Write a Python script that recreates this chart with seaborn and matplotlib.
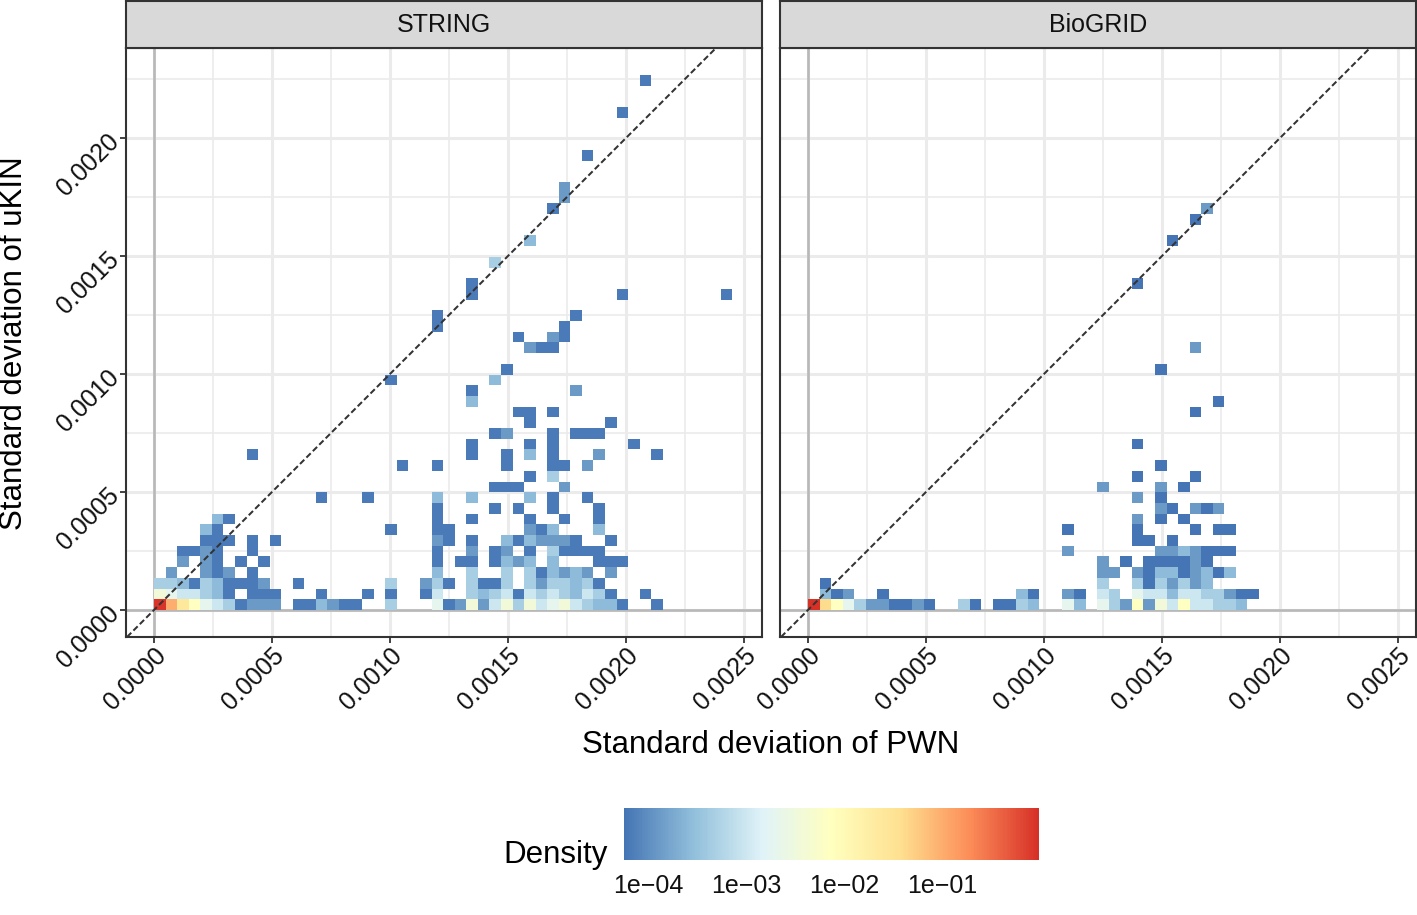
import numpy as np
import pandas as pd
import matplotlib
matplotlib.use("Agg")
import matplotlib.pyplot as plt
from matplotlib.colors import LinearSegmentedColormap, LogNorm
from matplotlib.transforms import ScaledTranslation
import seaborn as sns

# ---------------- data ----------------
panels = ["STRING", "BioGRID"]
bin_width_x = 0.000049
bin_width_y = 0.00004534
n_bins = 50

# density value for each colour level
level_density = [5.7e-5, 6.5e-5, 1.3e-4, 2.7e-4, 4.7e-4, 1.0e-3, 2.0e-3,
                 3.5e-3, 7.0e-3, 2.5e-2, 1.0e-1, 0.88, 0.98, 4.0e-2]

# (x bin, y bin, level)
string_cells = [
    (0, 0, 11), (1, 0, 10), (2, 0, 9), (3, 0, 8), (4, 0, 6), (5, 0, 5), (6, 0, 4), (7, 0, 1),
    (8, 0, 2), (9, 0, 2), (10, 0, 2), (12, 0, 1), (13, 0, 1), (14, 0, 3), (15, 0, 2), (16, 0, 1),
    (17, 0, 1), (20, 0, 4), (24, 0, 6), (25, 0, 1), (26, 0, 2), (27, 0, 7), (28, 0, 2), (29, 0, 5),
    (30, 0, 7), (31, 0, 4), (32, 0, 7), (33, 0, 5), (34, 0, 6), (35, 0, 7), (36, 0, 5), (37, 0, 4),
    (38, 0, 3), (39, 0, 3), (40, 0, 1), (43, 0, 1),
    (0, 1, 7), (1, 1, 6), (2, 1, 5), (3, 1, 5), (4, 1, 4), (5, 1, 3), (6, 1, 1), (8, 1, 1),
    (9, 1, 1), (10, 1, 1), (14, 1, 1), (18, 1, 1), (20, 1, 1), (23, 1, 1), (24, 1, 5), (27, 1, 4),
    (28, 1, 3), (29, 1, 4), (30, 1, 5), (31, 1, 1), (32, 1, 5), (33, 1, 4), (34, 1, 5), (35, 1, 4),
    (36, 1, 3), (37, 1, 5), (38, 1, 4), (39, 1, 1), (42, 1, 1),
    (0, 2, 4), (1, 2, 4), (2, 2, 3), (3, 2, 1), (4, 2, 4), (5, 2, 3), (6, 2, 1), (7, 2, 1),
    (8, 2, 1), (9, 2, 2), (12, 2, 1), (20, 2, 4), (23, 2, 2), (24, 2, 4), (25, 2, 1), (27, 2, 4),
    (28, 2, 1), (29, 2, 1), (30, 2, 4), (32, 2, 4), (33, 2, 2), (34, 2, 4), (35, 2, 4), (36, 2, 3),
    (37, 2, 4), (38, 2, 1),
    (1, 3, 2), (4, 3, 2), (5, 3, 1), (6, 3, 2), (8, 3, 1), (24, 3, 3), (27, 3, 4), (30, 3, 4),
    (32, 3, 4), (33, 3, 1), (34, 3, 3), (35, 3, 2), (36, 3, 3), (37, 3, 2), (39, 3, 2),
    (2, 4, 2), (4, 4, 2), (5, 4, 1), (7, 4, 1), (9, 4, 1), (24, 4, 1), (26, 4, 1), (27, 4, 1),
    (29, 4, 1), (30, 4, 3), (31, 4, 2), (32, 4, 3), (34, 4, 3), (38, 4, 1), (39, 4, 1), (40, 4, 1),
    (2, 5, 1), (3, 5, 1), (4, 5, 2), (5, 5, 1), (8, 5, 1), (24, 5, 1), (27, 5, 2), (29, 5, 1),
    (30, 5, 2), (32, 5, 1), (34, 5, 4), (35, 5, 1), (36, 5, 1), (37, 5, 1), (38, 5, 1),
    (4, 6, 1), (5, 6, 1), (6, 6, 1), (8, 6, 1), (10, 6, 1), (24, 6, 2), (25, 6, 1), (27, 6, 1),
    (30, 6, 3), (31, 6, 1), (32, 6, 3), (33, 6, 2), (34, 6, 2), (35, 6, 2), (36, 6, 1), (39, 6, 1),
    (4, 7, 3), (5, 7, 1), (20, 7, 1), (24, 7, 1), (25, 7, 1), (32, 7, 2), (33, 7, 1), (34, 7, 3),
    (38, 7, 3),
    (5, 8, 3), (6, 8, 1), (24, 8, 1), (27, 8, 1), (32, 8, 1), (35, 8, 1), (38, 8, 1),
    (24, 9, 1), (29, 9, 1), (31, 9, 1), (34, 9, 1), (38, 9, 1),
    (14, 10, 1), (18, 10, 1), (24, 10, 3), (27, 10, 3), (32, 10, 3), (34, 10, 1), (37, 10, 1),
    (29, 11, 1), (30, 11, 1), (31, 11, 1), (35, 11, 2),
    (32, 12, 1), (34, 12, 4),
    (21, 13, 1), (24, 13, 1), (30, 13, 1), (34, 13, 1), (35, 13, 1), (37, 13, 2),
    (8, 14, 1), (27, 14, 1), (30, 14, 1), (32, 14, 3), (34, 14, 1), (38, 14, 2), (43, 14, 1),
    (27, 15, 1), (32, 15, 1), (34, 15, 1), (41, 15, 1),
    (29, 16, 1), (30, 16, 2), (34, 16, 1), (36, 16, 1), (37, 16, 1), (38, 16, 1),
    (32, 17, 1), (39, 17, 1),
    (31, 18, 1), (32, 18, 1), (34, 18, 1),
    (27, 19, 3), (27, 20, 1), (36, 20, 2), (20, 21, 1), (29, 21, 3), (30, 22, 1),
    (32, 24, 2), (33, 24, 1), (34, 24, 1), (31, 25, 1), (34, 25, 2), (35, 25, 1),
    (24, 26, 1), (35, 26, 1), (24, 27, 1), (36, 27, 1),
    (27, 29, 1), (40, 29, 1), (49, 29, 1), (27, 30, 1), (29, 32, 4), (32, 34, 3),
    (34, 37, 1), (35, 38, 2), (35, 39, 2), (37, 42, 1), (40, 46, 1), (42, 49, 1),
]

biogrid_cells = [
    (0, 0, 12), (1, 0, 13), (2, 0, 8), (3, 0, 6), (4, 0, 4), (5, 0, 2), (6, 0, 2), (7, 0, 0),
    (8, 0, 0), (9, 0, 2), (10, 0, 0), (13, 0, 4), (14, 0, 0), (16, 0, 0), (17, 0, 0), (18, 0, 4),
    (19, 0, 3), (22, 0, 6), (23, 0, 3), (25, 0, 6), (26, 0, 4), (27, 0, 2), (28, 0, 8), (29, 0, 2),
    (30, 0, 7), (31, 0, 5), (32, 0, 8), (33, 0, 5), (34, 0, 5), (35, 0, 4), (36, 0, 4), (37, 0, 3),
    (1, 1, 3), (2, 1, 0), (3, 1, 2), (6, 1, 0), (18, 1, 3), (19, 1, 0), (22, 1, 2), (23, 1, 0),
    (25, 1, 5), (26, 1, 4), (28, 1, 6), (29, 1, 5), (30, 1, 5), (31, 1, 3), (32, 1, 5), (33, 1, 5),
    (34, 1, 4), (35, 1, 4), (36, 1, 2), (37, 1, 0), (38, 1, 0),
    (1, 2, 0), (25, 2, 4), (28, 2, 4), (29, 2, 0), (30, 2, 4), (31, 2, 2), (32, 2, 4), (33, 2, 2),
    (34, 2, 3),
    (25, 3, 2), (26, 3, 2), (28, 3, 2), (29, 3, 0), (30, 3, 3), (31, 3, 3), (32, 3, 0), (33, 3, 2),
    (34, 3, 3), (35, 3, 0), (36, 3, 3),
    (25, 4, 2), (27, 4, 0), (29, 4, 0), (30, 4, 0), (31, 4, 0), (32, 4, 0), (33, 4, 2), (34, 4, 0),
    (22, 5, 2), (30, 5, 2), (31, 5, 2), (32, 5, 3), (33, 5, 2), (34, 5, 0), (35, 5, 0), (36, 5, 0),
    (28, 6, 0), (29, 6, 0), (31, 6, 0),
    (22, 7, 0), (28, 7, 0), (33, 7, 0), (35, 7, 0), (36, 7, 0),
    (28, 8, 2), (30, 8, 0), (32, 8, 0),
    (30, 9, 2), (31, 9, 0), (33, 9, 2), (34, 9, 0), (35, 9, 2),
    (28, 10, 2), (30, 10, 0),
    (25, 11, 2), (30, 11, 2), (32, 11, 0),
    (28, 12, 0), (33, 12, 0), (30, 13, 0), (28, 15, 0), (33, 18, 0), (35, 19, 0),
    (30, 22, 0), (33, 24, 2), (28, 30, 0), (31, 34, 0), (33, 36, 0), (34, 37, 2),
]

x_ticks = [0.0, 0.0005, 0.0010, 0.0015, 0.0020, 0.0025]
x_tick_labels = ["0.0000", "0.0005", "0.0010", "0.0015", "0.0020", "0.0025"]
y_ticks = [0.0, 0.0005, 0.0010, 0.0015, 0.0020]
y_tick_labels = ["0.0000", "0.0005", "0.0010", "0.0015", "0.0020"]
minor_ticks = [0.00025, 0.00075, 0.00125, 0.00175, 0.00225]
cbar_ticks = [1e-4, 1e-3, 1e-2, 1e-1]
cbar_labels = ["1e\u221204", "1e\u221203", "1e\u221202", "1e\u221201"]
density_range = (5.7e-5, 0.98)
palette = ["#4575B4", "#91BFDB", "#E0F3F8", "#FFFFBF", "#FEE090", "#FC8D59", "#D73027"]

records = []
for name, cells in zip(panels, [string_cells, biogrid_cells]):
    for i, j, lev in cells:
        records.append({"panel": name,
                        "x": (i + 0.5) * bin_width_x,
                        "y": (j + 0.5) * bin_width_y,
                        "density": level_density[lev]})
df = pd.DataFrame(records)

# ---------------- figure ----------------
sns.set_style("white")
plt.rcParams["font.family"] = ["Liberation Sans", "DejaVu Sans"]
W, H = 1417, 915
fig = plt.figure(figsize=(W / 100, H / 100), dpi=100)


def fx(px):
    return px / W


def fy(py):
    return 1 - py / H


panel_lr = [(126, 762), (780, 1416)]
p_top, p_bot = 48, 637
xlim = (-0.0001186, 0.002576)
ylim = (-0.0001144, 0.002381)
cmap = LinearSegmentedColormap.from_list("rdylbu_r", palette)
norm = LogNorm(vmin=density_range[0], vmax=density_range[1])
edge = "#333333"
mesh = None

for k, (name, (l, r)) in enumerate(zip(panels, panel_lr)):
    ax = fig.add_axes([fx(l), fy(p_bot), (r - l) / W, (p_bot - p_top) / H])
    ax.set_facecolor("white")
    ax.axhline(0, color="#b8b8b8", lw=1.9, zorder=1)
    ax.axvline(0, color="#b8b8b8", lw=1.9, zorder=1)
    sub = df[df["panel"] == name]
    sns.histplot(data=sub, x="x", y="y", weights="density",
                 binwidth=(bin_width_x, bin_width_y),
                 binrange=((0, n_bins * bin_width_x), (0, n_bins * bin_width_y)),
                 cmap=cmap, norm=norm, vmin=None, vmax=None, ax=ax, zorder=2)
    mesh = ax.collections[-1]
    ax.axline((0, 0), slope=1, color="#333333", lw=1.45, ls=(0, (3.0, 1.5)), zorder=3)
    ax.set_xlim(*xlim)
    ax.set_ylim(*ylim)
    ax.set_xticks(x_ticks)
    ax.set_xticklabels(x_tick_labels)
    ax.set_yticks(y_ticks)
    ax.set_yticklabels(y_tick_labels)
    ax.set_xticks(minor_ticks, minor=True)
    ax.set_yticks(minor_ticks, minor=True)
    ax.grid(which="major", color="#ebebeb", lw=2.2, zorder=0)
    ax.grid(which="minor", color="#ebebeb", lw=1.2, zorder=0)
    ax.set_axisbelow(True)
    ax.set_xlabel("")
    ax.set_ylabel("")
    for s in ax.spines.values():
        s.set_color(edge)
        s.set_linewidth(1.5)
    ax.tick_params(which="minor", length=0)
    ax.tick_params(which="major", direction="out", length=4.5, width=1.3,
                   color=edge, labelsize=18, labelcolor="#111111", pad=3)
    ax.tick_params(axis="x", bottom=True)
    if k == 0:
        ax.tick_params(axis="y", left=True)
        for lab in ax.get_yticklabels():
            lab.set_rotation(45)
            lab.set_ha("right")
            lab.set_va("center")
            lab.set_rotation_mode("anchor")
    else:
        ax.tick_params(axis="y", left=False, labelleft=False)
    for lab in ax.get_xticklabels():
        lab.set_rotation(45)
        lab.set_ha("right")
        lab.set_va("top")
        lab.set_rotation_mode("anchor")
        lab.set_transform(lab.get_transform() +
                          ScaledTranslation(0.0, 0.04, fig.dpi_scale_trans))

    # facet strip
    sax = fig.add_axes([fx(l), fy(p_top), (r - l) / W, (p_top - 1) / H])
    sax.set_facecolor("#d9d9d9")
    sax.set_xticks([])
    sax.set_yticks([])
    for s in sax.spines.values():
        s.set_color(edge)
        s.set_linewidth(1.5)
    sax.text(0.5, 0.5, name, ha="center", va="center", fontsize=18,
             color="#111111", transform=sax.transAxes)

fig.text(fx(771), fy(745), "Standard deviation of PWN", ha="center", va="center",
         fontsize=22.5, color="black")
fig.text(fx(14), fy(343), "Standard deviation of uKIN", ha="center", va="center",
         rotation=90, fontsize=22.5, color="black")

# colour bar legend
cax = fig.add_axes([fx(624), fy(860), 415 / W, 52 / H])
cb = fig.colorbar(mesh, cax=cax, orientation="horizontal")
cb.outline.set_visible(False)
cb.set_ticks(cbar_ticks)
cb.set_ticklabels(cbar_labels)
cax.minorticks_off()
cax.xaxis.set_ticks_position("both")
cax.tick_params(axis="x", direction="in", length=7, width=1.2, color="white",
                labelsize=18, labelcolor="#111111", labeltop=False, labelbottom=True, pad=10)
fig.text(fx(608), fy(855), "Density", ha="right", va="center", fontsize=22.5, color="black")

fig.savefig("out.png", dpi=100)
